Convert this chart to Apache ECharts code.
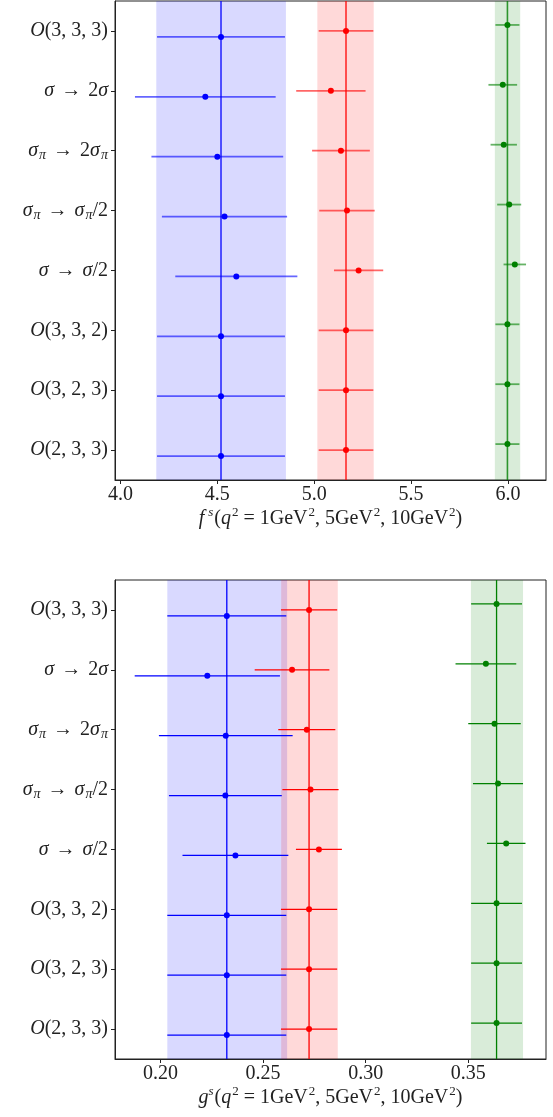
<!DOCTYPE html>
<html>
<head>
<meta charset="utf-8">
<script src="https://cdn.jsdelivr.net/npm/echarts@6/dist/echarts.min.js"></script>
<style>
html,body{margin:0;padding:0;background:#fff;}
#chart{width:553px;height:1117px;}
</style>
</head>
<body>
<div id="chart"></div>
<script>
// Row labels (top to bottom)
const rowLabels = [
  '{cal|O}(3, 3, 3)',
  '{i|σ}{ar|→}2{i|σ}',
  '{i|σ}{sub|π}{ar|→}2{i|σ}{sub|π}',
  '{i|σ}{sub|π}{ar|→}{i|σ}{sub|π}/2',
  '{i|σ}{ar|→}{i|σ}/2',
  '{cal|O}(3, 3, 2)',
  '{cal|O}(3, 2, 3)',
  '{cal|O}(2, 3, 3)'
];

// Top panel: f^s at q^2 = 1, 5, 10 GeV^2
const fBlue = [4.519, 4.438, 4.500, 4.537, 4.598, 4.519, 4.519, 4.519];
const fBlueErr = [0.330, 0.363, 0.340, 0.323, 0.315, 0.330, 0.330, 0.330];
const fRed = [5.164, 5.086, 5.138, 5.169, 5.229, 5.164, 5.164, 5.164];
const fRedErr = [0.141, 0.179, 0.149, 0.143, 0.127, 0.141, 0.141, 0.141];
const fGreen = [5.997, 5.973, 5.978, 6.006, 6.035, 5.997, 5.997, 5.997];
const fGreenErr = [0.062, 0.074, 0.068, 0.062, 0.058, 0.062, 0.062, 0.062];
const fCentral = [4.519, 5.164, 5.997];
const fBandLo = [4.185, 5.016, 5.932];
const fBandHi = [4.854, 5.307, 6.063];
const fTicks = [4.0, 4.5, 5.0, 5.5, 6.0];
const fRange = [3.972, 6.196];

// Bottom panel: g^s at q^2 = 1, 5, 10 GeV^2
const gBlue = [0.2323, 0.2228, 0.2318, 0.2316, 0.2365, 0.2323, 0.2323, 0.2323];
const gBlueErr = [0.0290, 0.0354, 0.0326, 0.0275, 0.0258, 0.0290, 0.0290, 0.0290];
const gRed = [0.2724, 0.2641, 0.2713, 0.2731, 0.2772, 0.2724, 0.2724, 0.2724];
const gRedErr = [0.0137, 0.0182, 0.0139, 0.0137, 0.0112, 0.0137, 0.0137, 0.0137];
const gGreen = [0.3638, 0.3586, 0.3628, 0.3645, 0.3685, 0.3638, 0.3638, 0.3638];
const gGreenErr = [0.0124, 0.0148, 0.0128, 0.0122, 0.0094, 0.0124, 0.0124, 0.0124];
const gCentral = [0.2323, 0.2724, 0.3638];
const gBandLo = [0.2033, 0.2588, 0.3513];
const gBandHi = [0.2617, 0.2864, 0.3767];
const gTicks = [0.20, 0.25, 0.30, 0.35];
const gRange = [0.1778, 0.3879];

const colors = ['#0000ff', '#ff0000', '#008000'];
const bandColors = ['rgba(0,0,255,0.15)', 'rgba(255,0,0,0.15)', 'rgba(0,128,0,0.15)'];
const rowOffsets = [0.1, 0, -0.1];
const FONT = 'Liberation Serif';

const labelRich = {
  cal: {fontFamily: FONT, fontSize: 20, fontStyle: 'italic', color: '#222', lineHeight: 24},
  i: {fontFamily: FONT, fontSize: 20, fontStyle: 'italic', color: '#222', lineHeight: 24},
  ar: {fontFamily: FONT, fontSize: 20, color: '#222', lineHeight: 24, padding: [0, 7, 0, 7]},
  sub: {fontFamily: FONT, fontSize: 14, fontStyle: 'italic', color: '#222', lineHeight: 14, verticalAlign: 'bottom', padding: [8, 0, 0, 1]}
};
const nameRich = {
  i: {fontFamily: FONT, fontSize: 20, fontStyle: 'italic', color: '#222', lineHeight: 26},
  sup: {fontFamily: FONT, fontSize: 13, color: '#222', lineHeight: 13, verticalAlign: 'top', padding: [0, 0, 10, 1]},
  supf: {fontFamily: FONT, fontSize: 13, fontStyle: 'italic', color: '#222', lineHeight: 13, verticalAlign: 'top', padding: [0, 1, 10, 4]},
  supg: {fontFamily: FONT, fontSize: 13, fontStyle: 'italic', color: '#222', lineHeight: 13, verticalAlign: 'top', padding: [0, 1, 10, 0]}
};

const grids = [
  {left: 115, right: 7, top: 1, height: 479},
  {left: 115, right: 7, top: 580, height: 479}
];

function xAxisFor(gi, range, ticks, decimals, nameStr) {
  return {
    type: 'value', gridIndex: gi, min: range[0], max: range[1],
    axisLine: {show: true, onZero: false, lineStyle: {color: '#222', width: 1}},
    axisTick: {show: true, inside: false, length: 4, lineStyle: {color: '#222'}, customValues: ticks},
    axisLabel: {customValues: ticks, formatter: v => v.toFixed(decimals), fontFamily: FONT, fontSize: 20, color: '#222', margin: 5},
    splitLine: {show: false},
    name: nameStr, nameLocation: 'middle', nameGap: 25,
    nameTextStyle: {fontFamily: FONT, fontSize: 20, color: '#222', lineHeight: 26, rich: nameRich}
  };
}
function yCatFor(gi) {
  return {
    type: 'category', gridIndex: gi, data: rowLabels, inverse: true,
    axisLine: {show: true, lineStyle: {color: '#222', width: 1}},
    axisTick: {show: true, alignWithLabel: true, length: 4, lineStyle: {color: '#222'}},
    axisLabel: {fontFamily: FONT, fontSize: 20, color: '#222', margin: 7, rich: labelRich},
    splitLine: {show: false}
  };
}
function yValFor(gi) {
  return {type: 'value', gridIndex: gi, min: -0.5, max: 7.5, inverse: true, show: false, splitLine: {show: false}};
}

const series = [];
function addPanel(gi, vals, errs, central, bandLo, bandHi, top) {
  const xi = gi, yi = gi * 2 + 1;
  // bands
  series.push({
    type: 'custom', xAxisIndex: xi, yAxisIndex: yi, z: 1, silent: true,
    data: bandLo.map((lo, k) => [lo, bandHi[k], 0, k]),
    encode: {x: [0, 1], y: 2},
    renderItem: (params, api) => {
      const cs = params.coordSys;
      const x1 = api.coord([api.value(0), 0])[0];
      const x2 = api.coord([api.value(1), 0])[0];
      return {type: 'rect', shape: {x: x1, y: cs.y, width: x2 - x1, height: cs.height},
        style: {fill: bandColors[api.value(3)]}};
    }
  });
  // central vertical lines
  series.push({
    type: 'custom', xAxisIndex: xi, yAxisIndex: yi, z: 2, silent: true,
    data: central.map((c, k) => [c, 0, k]),
    encode: {x: 0, y: 1},
    renderItem: (params, api) => {
      const cs = params.coordSys;
      const x = api.coord([api.value(0), 0])[0];
      return {type: 'line', shape: {x1: x, y1: cs.y, x2: x, y2: cs.y + cs.height},
        style: {stroke: colors[api.value(2)], lineWidth: top ? 1.6 : 1.3, opacity: top ? 0.8 : 1}};
    }
  });
  for (let k = 0; k < 3; k++) {
    const v = vals[k], e = errs[k];
    series.push({
      type: 'custom', xAxisIndex: xi, yAxisIndex: yi, z: 3, silent: true,
      data: v.map((c, r) => [c - e[r], c + e[r], r + rowOffsets[k]]),
      encode: {x: [0, 1], y: 2},
      renderItem: (params, api) => {
        const p1 = api.coord([api.value(0), api.value(2)]);
        const p2 = api.coord([api.value(1), api.value(2)]);
        return {type: 'line', shape: {x1: p1[0], y1: p1[1], x2: p2[0], y2: p2[1]},
          style: {stroke: colors[k], lineWidth: top ? 1.8 : 1.3, opacity: top ? 0.6 : 1}};
      }
    });
    series.push({
      type: 'scatter', xAxisIndex: xi, yAxisIndex: yi, z: 4, silent: true,
      symbol: 'circle', symbolSize: 6,
      itemStyle: {color: colors[k], opacity: 1},
      data: v.map((c, r) => [c, r + rowOffsets[k]])
    });
  }
}
addPanel(0, [fBlue, fRed, fGreen], [fBlueErr, fRedErr, fGreenErr], fCentral, fBandLo, fBandHi, true);
addPanel(1, [gBlue, gRed, gGreen], [gBlueErr, gRedErr, gGreenErr], gCentral, gBandLo, gBandHi, false);

const nameF = '{i|f}{supf|s}({i|q}{sup|2} = 1GeV{sup|2}, 5GeV{sup|2}, 10GeV{sup|2})';
const nameG = '{i|g}{supg|s}({i|q}{sup|2} = 1GeV{sup|2}, 5GeV{sup|2}, 10GeV{sup|2})';

const chart = echarts.init(document.getElementById('chart'), null, {renderer: 'canvas'});
chart.setOption({
  backgroundColor: '#fff',
  animation: false,
  grid: grids.map(g => Object.assign({show: true, borderColor: '#222', borderWidth: 1, backgroundColor: 'transparent'}, g)),
  xAxis: [xAxisFor(0, fRange, fTicks, 1, nameF), xAxisFor(1, gRange, gTicks, 2, nameG)],
  yAxis: [yCatFor(0), yValFor(0), yCatFor(1), yValFor(1)],
  series: series
});
</script>
</body>
</html>
